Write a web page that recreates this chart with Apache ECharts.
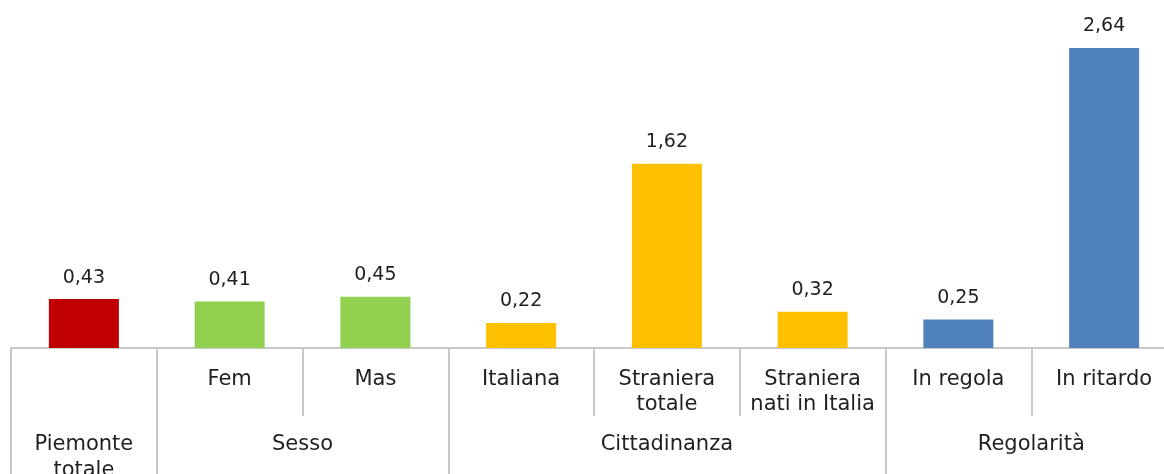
<!DOCTYPE html>
<html>
<head>
<meta charset="utf-8">
<script src="https://cdn.jsdelivr.net/npm/echarts@6/dist/echarts.min.js"></script>
<style>
  html, body { margin: 0; padding: 0; background: #fff; }
  #main { width: 1164px; height: 474px; }
</style>
</head>
<body>
<div id="main"></div>
<script>
// inner labels (first row under the axis)
const categories = ['', 'Fem', 'Mas', 'Italiana', 'Straniera\ntotale', 'Straniera\nnati in Italia', 'In regola', 'In ritardo'];
const values = [0.43, 0.41, 0.45, 0.22, 1.62, 0.32, 0.25, 2.64];
const barColors = ['#C00000', '#92D050', '#92D050', '#FFC000', '#FFC000', '#FFC000', '#4F81BD', '#4F81BD'];
// group labels, keyed by centre position on a 0..8 scale
const groupLabels = { 0.5: 'Piemonte\ntotale', 2: 'Sesso', 4.5: 'Cittadinanza', 7: 'Regolarità' };
const groupStarts = [0, 1, 3, 6];

const font = 'DejaVu Sans';
const textColor = '#1f1f1f';
const lineColor = '#C8C8C8';

var chart = echarts.init(document.getElementById('main'), null, { renderer: 'canvas' });

chart.setOption({
  animation: false,
  grid: { left: 11, width: 1166, top: 7, bottom: 126, containLabel: false, outerBoundsMode: 'none' },
  xAxis: [
    {
      type: 'category',
      data: categories,
      position: 'bottom',
      axisLine: { show: true, lineStyle: { color: lineColor, width: 2 } },
      axisTick: { show: true, length: 68, lineStyle: { color: lineColor, width: 2 } },
      axisLabel: {
        interval: 0, margin: 19, color: textColor, fontFamily: font, fontSize: 21,
        lineHeight: 25, verticalAlign: 'top'
      }
    },
    {
      type: 'category',
      data: categories,
      position: 'bottom',
      axisLine: { show: false },
      axisTick: {
        show: true, length: 130,
        interval: function (i) { return groupStarts.indexOf(i) >= 0; },
        lineStyle: { color: lineColor, width: 2 }
      },
      axisLabel: { show: false }
    },
    {
      type: 'value',
      min: 0, max: 8, interval: 0.5,
      position: 'bottom',
      axisLine: { show: false },
      axisTick: { show: false },
      splitLine: { show: false },
      axisLabel: {
        margin: 84, color: textColor, fontFamily: font, fontSize: 21,
        lineHeight: 26, verticalAlign: 'top',
        showMinLabel: true, showMaxLabel: true,
        formatter: function (v) { return groupLabels[v] || ''; }
      }
    }
  ],
  yAxis: {
    type: 'value', min: 0, max: 3,
    show: false,
    splitLine: { show: false }
  },
  series: [{
    type: 'bar',
    xAxisIndex: 0,
    barWidth: 70,
    data: values.map(function (v, i) {
      return { value: v, itemStyle: { color: barColors[i] } };
    }),
    label: {
      show: true, position: 'top', distance: 12,
      color: textColor, fontFamily: font, fontSize: 19,
      formatter: function (p) { return p.value.toFixed(2).replace('.', ','); }
    }
  }]
});
</script>
</body>
</html>
